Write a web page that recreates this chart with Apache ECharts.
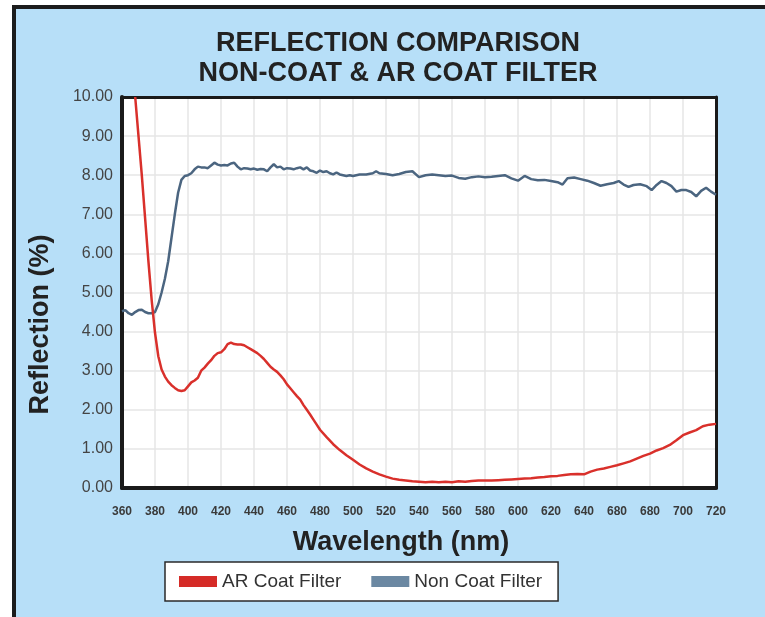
<!DOCTYPE html>
<html>
<head>
<meta charset="utf-8">
<script src="https://cdn.jsdelivr.net/npm/echarts@6/dist/echarts.min.js"></script>
<style>
html,body{margin:0;padding:0;background:#ffffff;}
#chart{width:765px;height:617px;}
</style>
</head>
<body>
<div id="chart"></div>
<script>
// X tick labels as printed on the reference (note: "680" appears at the 660 position)
const xTickValues = [360,380,400,420,440,460,480,500,520,540,560,580,600,620,640,660,680,700,720];
const xTickLabels = ["360","380","400","420","440","460","480","500","520","540","560","580","600","620","640","680","680","700","720"];

// AR Coat Filter
const arWavelength = [368,370,372,374,376,378,380,382,384,386,388,390,392,394,396,398,400,402,404,406,408,410,412,414,416,418,420,422,424,426,428,430,432,434,436,438,440,442,444,446,448,450,452,454,456,458,460,462,464,466,468,470,472,474,476,478,480,484,488,492,496,500,504,508,512,516,520,524,528,532,536,540,544,548,552,556,560,564,568,572,576,580,584,588,592,596,600,604,608,612,616,620,624,628,632,636,640,644,648,652,656,660,664,668,672,676,680,684,688,692,696,700,704,708,712,716,720];
const arReflection = [10.0,9.0,8.0,6.9,5.8,4.8,3.97,3.37,3.03,2.85,2.72,2.63,2.56,2.5,2.48,2.5,2.6,2.7,2.75,2.82,3.0,3.08,3.18,3.27,3.38,3.45,3.47,3.55,3.68,3.72,3.68,3.67,3.67,3.65,3.6,3.55,3.5,3.45,3.38,3.3,3.2,3.1,3.03,2.97,2.88,2.78,2.65,2.55,2.45,2.35,2.26,2.12,2.0,1.88,1.75,1.62,1.49,1.3,1.12,0.97,0.84,0.72,0.6,0.5,0.42,0.35,0.29,0.24,0.21,0.19,0.17,0.16,0.15,0.16,0.15,0.16,0.15,0.17,0.16,0.18,0.19,0.19,0.19,0.2,0.21,0.22,0.23,0.24,0.25,0.27,0.28,0.3,0.31,0.33,0.35,0.36,0.35,0.42,0.47,0.5,0.54,0.58,0.63,0.68,0.75,0.82,0.88,0.96,1.02,1.1,1.22,1.35,1.42,1.48,1.58,1.62,1.64];

// Non Coat Filter
const ncWavelength = [360,362,364,366,368,370,372,374,376,378,380,382,384,386,388,390,392,394,396,398,400,402,404,406,408,410,412,414,416,418,420,422,424,426,428,430,432,434,436,438,440,442,444,446,448,450,452,454,456,458,460,462,464,466,468,470,472,474,476,478,480,482,484,486,488,490,492,494,496,498,500,504,508,512,514,516,520,524,528,532,536,540,544,548,552,556,560,564,568,572,576,580,584,588,592,596,600,604,608,612,616,620,624,627,630,634,638,642,646,650,654,658,661,664,667,670,674,678,681,684,687,690,693,696,699,702,705,708,711,714,717,720];
const ncReflection = [4.52,4.55,4.47,4.43,4.5,4.55,4.56,4.5,4.47,4.47,4.5,4.7,5.0,5.35,5.8,6.4,7.0,7.55,7.88,7.98,8.0,8.05,8.15,8.22,8.2,8.2,8.18,8.25,8.32,8.27,8.25,8.26,8.25,8.3,8.32,8.22,8.15,8.18,8.17,8.15,8.17,8.14,8.16,8.15,8.1,8.2,8.28,8.2,8.22,8.15,8.18,8.17,8.15,8.18,8.2,8.15,8.2,8.12,8.1,8.06,8.12,8.08,8.1,8.05,8.02,8.07,8.02,8.0,7.98,8.0,7.98,8.02,8.02,8.05,8.1,8.05,8.03,8.0,8.03,8.08,8.1,7.95,8.0,8.02,8.0,7.98,7.99,7.93,7.91,7.95,7.97,7.95,7.96,7.98,8.0,7.92,7.86,7.98,7.9,7.87,7.88,7.85,7.82,7.76,7.92,7.94,7.9,7.86,7.8,7.73,7.77,7.8,7.85,7.76,7.7,7.75,7.77,7.72,7.62,7.75,7.85,7.8,7.72,7.58,7.62,7.62,7.57,7.46,7.6,7.68,7.58,7.5];

const yTickLabelsDecimals = 2;

const arData = arWavelength.map((w, i) => [w, arReflection[i]]);
const ncData = ncWavelength.map((w, i) => [w, ncReflection[i]]);

const chart = echarts.init(document.getElementById('chart'), null, {renderer: 'canvas'});
const FONT = 'Liberation Sans, Arial, sans-serif';

const frameAxis = function (pos, type) {
  return {
    type: 'value',
    position: pos,
    min: type === 'x' ? 360 : 0,
    max: type === 'x' ? 720 : 10,
    interval: type === 'x' ? 20 : 1,
    axisLine: {show: true, onZero: false, lineStyle: {color: '#1a1a1a', width: 3}},
    axisTick: {show: false},
    axisLabel: {show: false},
    splitLine: {show: false}
  };
};

chart.setOption({
  backgroundColor: '#ffffff',
  animation: false,
  textStyle: {fontFamily: FONT},
  graphic: [{
    type: 'rect',
    z: -10,
    silent: true,
    shape: {x: 14, y: 7, width: 800, height: 700},
    style: {fill: '#b7dff8', stroke: '#1c1c1c', lineWidth: 4}
  }],
  title: {
    text: 'REFLECTION COMPARISON\nNON-COAT & AR COAT FILTER',
    left: 393,
    top: 24,
    textAlign: 'center',
    textStyle: {fontSize: 27, fontWeight: 'bold', color: '#222222', lineHeight: 30, fontFamily: FONT}
  },
  legend: {
    left: 165,
    top: 562,
    padding: [10, 16, 10, 14],
    itemGap: 30,
    itemWidth: 38,
    itemHeight: 11,
    icon: 'rect',
    backgroundColor: '#ffffff',
    borderColor: '#2a2a2a',
    borderWidth: 1.5,
    borderRadius: 0,
    textStyle: {fontSize: 19, color: '#333333', fontFamily: FONT},
    data: ['AR Coat Filter', 'Non Coat Filter']
  },
  grid: {
    left: 122,
    right: 49,
    top: 97,
    bottom: 129,
    show: true,
    backgroundColor: '#ffffff',
    borderWidth: 0
  },
  xAxis: [{
    type: 'value',
    min: 360,
    max: 720,
    interval: 20,
    name: 'Wavelength (nm)',
    nameLocation: 'middle',
    nameGap: 41,
    nameTextStyle: {fontSize: 27, fontWeight: 'bold', color: '#222222', padding: [0, 36, 0, 0], fontFamily: FONT},
    axisLine: {show: true, onZero: false, lineStyle: {color: '#1a1a1a', width: 4}},
    axisTick: {show: false},
    axisLabel: {
      margin: 18,
      fontSize: 12,
      fontWeight: 'bold',
      color: '#3a3a3a',
      fontFamily: FONT,
      formatter: function (v) {
        const i = xTickValues.indexOf(v);
        return i >= 0 ? xTickLabels[i] : '';
      }
    },
    splitLine: {show: true, showMinLine: false, showMaxLine: false, lineStyle: {color: '#e6e6e6', width: 1.5}}
  }, frameAxis('top', 'x')],
  yAxis: [{
    type: 'value',
    min: 0,
    max: 10,
    interval: 1,
    name: 'Reflection (%)',
    nameLocation: 'middle',
    nameGap: 68,
    nameRotate: 90,
    nameTextStyle: {fontSize: 27, fontWeight: 'bold', color: '#222222', padding: [0, 64, 0, 0], fontFamily: FONT},
    axisLine: {show: true, onZero: false, lineStyle: {color: '#1a1a1a', width: 4}},
    axisTick: {show: false},
    axisLabel: {
      margin: 9,
      fontSize: 16,
      color: '#444444',
      fontFamily: FONT,
      formatter: function (v) { return v.toFixed(yTickLabelsDecimals); }
    },
    splitLine: {show: true, showMinLine: false, showMaxLine: false, lineStyle: {color: '#e6e6e6', width: 1.5}}
  }, frameAxis('right', 'y')],
  series: [
    {
      name: 'AR Coat Filter',
      type: 'line',
      xAxisIndex: 0,
      yAxisIndex: 0,
      data: arData,
      showSymbol: false,
      clip: true,
      z: 3,
      itemStyle: {color: '#d52b27'},
      lineStyle: {color: '#d9302b', width: 2.5}
    },
    {
      name: 'Non Coat Filter',
      type: 'line',
      xAxisIndex: 0,
      yAxisIndex: 0,
      data: ncData,
      showSymbol: false,
      clip: true,
      z: 2,
      itemStyle: {color: '#6b88a2'},
      lineStyle: {color: '#4b6580', width: 2.5}
    }
  ]
});
</script>
</body>
</html>
